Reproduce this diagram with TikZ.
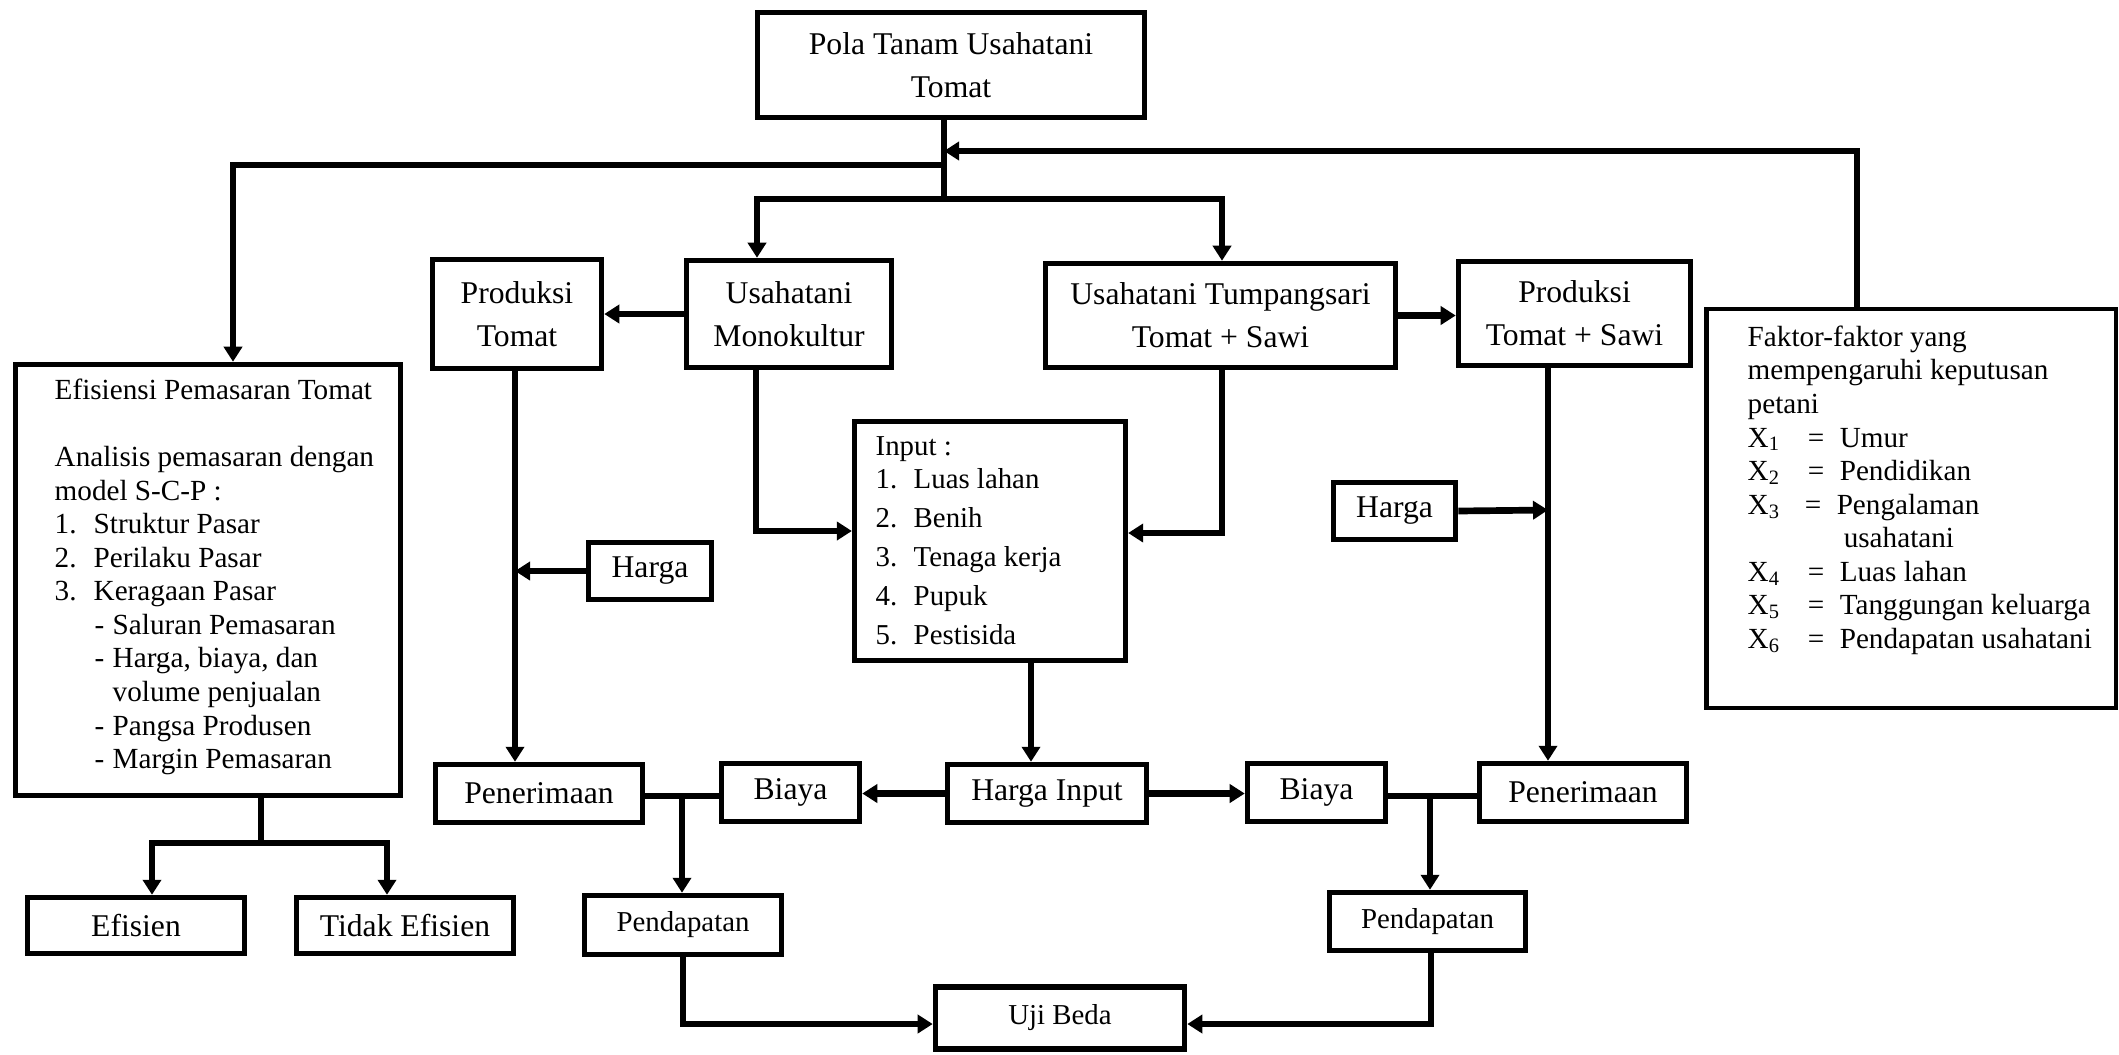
\documentclass[tikz,border=0pt]{standalone}
\usepackage{fontspec}
\setmainfont{Liberation Serif}
\usetikzlibrary{arrows.meta}
\newcommand\fbig{\fontsize{9}{12.2}\selectfont}
\newcommand\fsmall{\fontsize{8.3}{9.55}\selectfont}
\newcommand\finput{\fontsize{8.2}{11.1}\selectfont}
\begin{document}
\begin{tikzpicture}[x=0.01cm,y=-0.01cm,
  box/.style={draw,line width=1.55pt,inner sep=0pt,align=center,font=\fbig},
  sbox/.style={box,font=\fontsize{8.2}{9.6}\selectfont},
  txt/.style={anchor=north west,inner sep=0pt,align=left},
  conn/.style={line width=1.6pt,line join=miter},
  tip/.tip={Triangle[length=0.15cm,width=0.18cm]},
  arr/.style={conn,-tip},
  harr/.style={line width=1.9pt,-tip}]
\useasboundingbox (0,0) rectangle (2119,1054);

% boxes
\node[box,minimum width=3.87cm,minimum height=1.05cm] (pola) at (951,65) {Pola Tanam Usahatani\\Tomat};
\node[box,minimum width=1.69cm,minimum height=1.09cm] (prodT) at (517,314) {Produksi\\Tomat};
\node[box,minimum width=2.05cm,minimum height=1.07cm] (mono) at (789,314) {Usahatani\\Monokultur};
\node[box,minimum width=3.50cm,minimum height=1.04cm] (tump) at (1220.5,315.5) {Usahatani Tumpangsari\\Tomat + Sawi};
\node[box,minimum width=2.32cm,minimum height=1.04cm] (prodTS) at (1574.5,313.5) {Produksi\\Tomat + Sawi};
\node[draw,line width=1.2pt,inner sep=0pt,minimum width=4.09cm,minimum height=3.99cm] (faktor) at (1911,508.5) {};
\node[draw,line width=1.5pt,inner sep=0pt,minimum width=3.85cm,minimum height=4.31cm] (efis) at (208,580) {};
\node[draw,line width=1.45pt,inner sep=0pt,minimum width=2.71cm,minimum height=2.39cm] (input) at (990,541) {};
\node[box,minimum width=1.23cm,minimum height=0.57cm] (hargaL) at (650,571) {Harga};
\node[box,minimum width=1.22cm,minimum height=0.57cm] (hargaR) at (1394.5,511) {Harga};
\node[box,minimum width=2.07cm,minimum height=0.58cm] (penL) at (539,793.5) {Penerimaan};
\node[box,minimum width=1.38cm,minimum height=0.58cm] (biayaL) at (790.5,792.5) {Biaya};
\node[box,minimum width=1.99cm,minimum height=0.58cm] (hinput) at (1047,793.5) {Harga Input};
\node[box,minimum width=1.38cm,minimum height=0.58cm] (biayaR) at (1316.5,792.5) {Biaya};
\node[box,minimum width=2.07cm,minimum height=0.58cm] (penR) at (1583,792.5) {Penerimaan};
\node[box,minimum width=2.17cm,minimum height=0.56cm] (efisien) at (136,925.5) {Efisien};
\node[box,minimum width=2.17cm,minimum height=0.56cm] (tidak) at (405,925.5) {Tidak Efisien};
\node[sbox,minimum width=1.97cm,minimum height=0.59cm] (pendL) at (683,925) {Pendapatan};
\node[sbox,minimum width=1.96cm,minimum height=0.58cm] (pendR) at (1427.5,921.5) {Pendapatan};
\node[sbox,minimum width=2.49cm,minimum height=0.62cm] (uji) at (1060,1018) {Uji Beda};

% texts inside the large boxes
\node[txt,font=\fsmall] (efistext) at (54,378) {Efisiensi Pemasaran Tomat\\[9.55pt]
Analisis pemasaran dengan\\
model S-C-P :\\
\makebox[0.39cm][l]{1.}Struktur Pasar\\
\makebox[0.39cm][l]{2.}Perilaku Pasar\\
\makebox[0.39cm][l]{3.}Keragaan Pasar\\
\hspace*{0.40cm}\makebox[0.18cm][l]{-}Saluran Pemasaran\\
\hspace*{0.40cm}\makebox[0.18cm][l]{-}Harga, biaya, dan\\
\hspace*{0.58cm}volume penjualan\\
\hspace*{0.40cm}\makebox[0.18cm][l]{-}Pangsa Produsen\\
\hspace*{0.40cm}\makebox[0.18cm][l]{-}Margin Pemasaran};

\node[txt,font=\finput] (inputtext) at (875,436) {Input :\\[-1.7pt]
\makebox[0.38cm][l]{1.}Luas lahan\\
\makebox[0.38cm][l]{2.}Benih\\
\makebox[0.38cm][l]{3.}Tenaga kerja\\
\makebox[0.38cm][l]{4.}Pupuk\\
\makebox[0.38cm][l]{5.}Pestisida};

\node[txt,font=\fsmall] (faktortext) at (1747,325) {Faktor-faktor yang\\
mempengaruhi keputusan\\
petani\\
\makebox[0.60cm][l]{X\textsubscript{1}}\makebox[0.32cm][l]{=}Umur\\
\makebox[0.60cm][l]{X\textsubscript{2}}\makebox[0.32cm][l]{=}Pendidikan\\
\makebox[0.57cm][l]{X\textsubscript{3}}\makebox[0.32cm][l]{=}Pengalaman\\
\hspace*{0.96cm}usahatani\\
\makebox[0.60cm][l]{X\textsubscript{4}}\makebox[0.32cm][l]{=}Luas lahan\\
\makebox[0.60cm][l]{X\textsubscript{5}}\makebox[0.32cm][l]{=}Tanggungan keluarga\\
\makebox[0.60cm][l]{X\textsubscript{6}}\makebox[0.32cm][l]{=}Pendapatan usahatani};

% coordinates
\coordinate (s0) at (944,151);
\coordinate (s1) at (944,165);
\coordinate (s2) at (944,199);
\coordinate (e1) at (233,165);
\coordinate (b1) at (757,199);
\coordinate (b2) at (1222,199);
\coordinate (f1) at (1857,151);
\coordinate (m2) at (756,531);
\coordinate (t2) at (1222,533);
\coordinate (p1) at (515,571);
\coordinate (p2) at (1548,510);
\coordinate (i1) at (1031,700);
\coordinate (q1) at (682,796);
\coordinate (q2) at (1430,796);
\coordinate (u1) at (683,1024);
\coordinate (u2) at (1431,1024);
\coordinate (e2) at (261,843);
\coordinate (e3) at (152,843);
\coordinate (e4) at (387,843);

% connectors
\draw[conn] (pola.south -| s2) -- (s2);
\draw[arr] (s1) -- (e1) -- (e1 |- efis.north);
\draw[conn,tip-tip] (b1 |- mono.north) -- (b1) -- (b2) -- (b2 |- tump.north);
\draw[arr] (f1 |- faktor.north) -- (f1) -- (s0);
\draw[harr] (mono.west) -- (prodT.east);
\draw[harr] (tump.east) -- (tump.east -| prodTS.west);
\draw[arr] (m2 |- mono.south) -- (m2) -- (m2 -| input.west);
\draw[arr] (t2 |- tump.south) -- (t2) -- (t2 -| input.east);
\draw[arr] (p1 |- prodT.south) -- (p1 |- penL.north);
\draw[harr] (hargaL.west) -- (p1);
\draw[arr] (p2 |- prodTS.south) -- (p2 |- penR.north);
\draw[harr] (hargaR.east) -- (p2);
\draw[arr] (i1 |- input.south) -- (i1 |- hinput.north);
\draw[harr] (hinput.west) -- (hinput.west -| biayaL.east);
\draw[harr] (hinput.east) -- (hinput.east -| biayaR.west);
\draw[line width=1.8pt] (q1 -| penL.east) -- (q1 -| biayaL.west);
\draw[arr] (q1) -- (q1 |- pendL.north);
\draw[line width=1.8pt] (q2 -| biayaR.east) -- (q2 -| penR.west);
\draw[arr] (q2) -- (q2 |- pendR.north);
\draw[arr] (u1 |- pendL.south) -- (u1) -- (u1 -| uji.west);
\draw[arr] (u2 |- pendR.south) -- (u2) -- (u2 -| uji.east);
\draw[conn] (e2 |- efis.south) -- (e2);
\draw[conn,tip-tip] (e3 |- efisien.north) -- (e3) -- (e4) -- (e4 |- tidak.north);
\end{tikzpicture}
\end{document}
